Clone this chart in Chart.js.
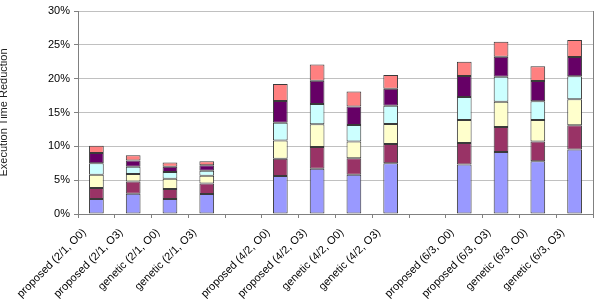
<!DOCTYPE html>
<html>
<head>
<meta charset="utf-8">
<script src="https://cdn.jsdelivr.net/npm/chart.js@4/dist/chart.umd.min.js"></script>
<style>
html,body{margin:0;padding:0;background:#fff;}
#wrap{width:599px;height:299px;}
</style>
</head>
<body>
<div id="wrap"><canvas id="c" width="599" height="299"></canvas></div>
<script>
const categories = [
  "proposed (2/1, O0)", "proposed (2/1, O3)", "genetic (2/1, O0)", "genetic (2/1, O3)", "",
  "proposed (4/2, O0)", "proposed (4/2, O3)", "genetic (4/2, O0)", "genetic (4/2, O3)", "",
  "proposed (6/3, O0)", "proposed (6/3, O3)", "genetic (6/3, O0)", "genetic (6/3, O3)"
];
const seriesNames = ["Part 1", "Part 2", "Part 3", "Part 4", "Part 5", "Part 6"];
const part1 = [2.2, 3.0, 2.2, 2.95, null, 5.6, 6.7, 5.8, 7.5, null, 7.3, 9.15, 7.8, 9.55];
const part2 = [1.65, 1.8, 1.5, 1.55, null, 2.55, 3.2, 2.45, 2.85, null, 3.2, 3.7, 2.9, 3.55];
const part3 = [1.95, 1.1, 1.5, 1.15, null, 2.7, 3.35, 2.45, 2.95, null, 3.4, 3.75, 3.2, 3.85];
const part4 = [1.7, 1.1, 1.0, 0.75, null, 2.65, 3.0, 2.45, 2.7, null, 3.4, 3.7, 2.75, 3.4];
const part5 = [1.5, 0.9, 0.8, 0.8, null, 3.2, 3.45, 2.75, 2.5, null, 3.1, 2.95, 3.0, 2.85];
const part6 = [1.1, 0.8, 0.6, 0.6, null, 2.5, 2.4, 2.2, 2.05, null, 2.1, 2.2, 2.2, 2.5];
const yTicks = [0, 5, 10, 15, 20, 25, 30];

const colors = ["#9999FF", "#993366", "#FFFFCC", "#CCFFFF", "#660066", "#FF8080"];
const values = [part1, part2, part3, part4, part5, part6];

const datasets = values.map((v, i) => ({
  label: seriesNames[i],
  data: v,
  backgroundColor: colors[i],
  borderColor: "#3a3a3a",
  borderWidth: 1,
  borderSkipped: false,
  barPercentage: 0.4,
  categoryPercentage: 1.0
}));

const font = { family: "Arial, 'Liberation Sans', sans-serif", size: 11 };

new Chart(document.getElementById("c"), {
  type: "bar",
  data: { labels: categories, datasets: datasets },
  options: {
    responsive: false,
    animation: false,
    devicePixelRatio: 1,
    layout: { padding: { left: -3, right: 6, top: 11, bottom: 0 } },
    plugins: { legend: { display: false }, tooltip: { enabled: false } },
    scales: {
      x: {
        stacked: true,
        grid: { display: true, drawOnChartArea: false, drawTicks: true, tickLength: 4, color: "#808080", offset: true },
        border: { display: true, color: "#808080", width: 1 },
        ticks: { font: font, color: "#000", maxRotation: 45, minRotation: 45, autoSkip: false, labelOffset: -12, padding: 8 },
        afterFit: (s) => { s.height = 85; }
      },
      y: {
        stacked: true,
        min: 0, max: 30,
        afterBuildTicks: (s) => { s.ticks = yTicks.map(v => ({ value: v })); },
        grid: { color: "#c0c0c0", tickColor: "#808080", tickLength: 4, drawTicks: true },
        border: { display: true, color: "#808080", width: 1 },
        ticks: { font: font, color: "#000", callback: (v) => v + "%", padding: 4 },
        title: { display: true, text: "Execution Time Reduction", font: font, color: "#222", padding: { top: 0, bottom: 0 } },
        afterFit: (s) => { s.width = 81; }
      },
      y2: {
        position: "right",
        min: 0, max: 30,
        grid: { display: false },
        ticks: { display: false },
        border: { display: true, color: "#808080", width: 1 },
        afterFit: (s) => { s.width = 0; }
      }
    }
  }
});
</script>
</body>
</html>
